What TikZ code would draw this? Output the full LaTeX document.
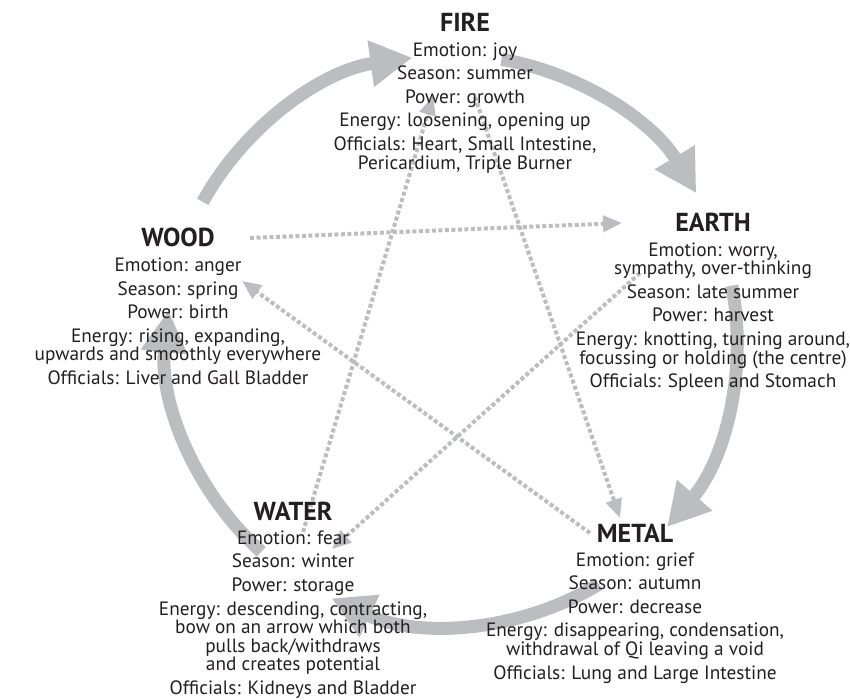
\documentclass[tikz,border=0pt]{standalone}
\usepackage{fontspec}
\setmainfont{PT Sans}
\usetikzlibrary{arrows.meta,positioning,calc}
\definecolor{cyclegray}{HTML}{BCBDC0}
\definecolor{inkgray}{HTML}{231F20}
\tikzset{
  element/.style={font=\bfseries\fontsize{26}{30}\selectfont, text=inkgray, inner sep=0pt, anchor=base},
  qualities/.style={font=\fontsize{19.3}{18.6}\selectfont, text=inkgray, inner sep=0pt, align=center, below=10pt of #1},
  generating/.style={draw=cyclegray, line width=13pt, -{Triangle[width=44pt,length=42pt]}},
  controlling/.style={draw=cyclegray, line width=4pt, dash pattern=on 4pt off 2.5pt, -{Triangle[width=16pt,length=19pt]}},
}

\begin{document}
\begin{tikzpicture}[x=1pt,y=-1pt]
\useasboundingbox (0,0) rectangle (850,700);
\coordinate (hub) at (452,340);

% generating cycle
\foreach \name/\from/\to in {wood/-151/-98, fire/-80/-31, earth/-11/41, metal/59/115, water/132/186}
  \draw[generating] ($(hub)+(\from:285)$) coordinate (\name-out) arc[start angle=\from, end angle=\to, radius=285];

% controlling cycle
\coordinate (wood-ctl) at (250,238);  \coordinate (earth-in) at (622,223);
\coordinate (earth-ctl) at (640,273); \coordinate (water-in) at (332,549);
\coordinate (water-ctl) at (303,532); \coordinate (fire-in) at (433,96);
\coordinate (fire-ctl) at (475,97);   \coordinate (metal-in) at (620,518);
\coordinate (metal-ctl) at (590,533); \coordinate (wood-in) at (242,281);
\draw[controlling] (wood-ctl) -- (earth-in);
\draw[controlling] (earth-ctl) -- (water-in);
\draw[controlling] (water-ctl) -- (fire-in);
\draw[controlling] (fire-ctl) -- (metal-in);
\draw[controlling] (metal-ctl) -- (wood-in);

% elements
\node[element] (fire) at (465,32) {FIRE};
\node[qualities=fire] (fire-text) {Emotion: joy\\[5pt] Season: summer\\[5pt] Power: growth\\[5pt]
  Energy: loosening, opening up\\[5pt] Officials: Heart, Small Intestine,\\ Pericardium, Triple Burner};

\node[element] (earth) at (713,232) {EARTH};
\node[qualities=earth] (earth-text) {Emotion: worry,\\ sympathy, over-thinking\\[5pt] Season: late summer\\[5pt]
  Power: harvest\\[5pt] Energy: knotting, turning around,\\ focussing or holding (the centre)\\[5pt]
  Officials: Spleen and Stomach};

\node[element] (wood) at (178,247) {WOOD};
\node[qualities=wood] (wood-text) {Emotion: anger\\[5pt] Season: spring\\[5pt] Power: birth\\[5pt]
  Energy: rising, expanding,\\ upwards and smoothly everywhere\\[5pt] Officials: Liver and Gall Bladder};

\node[element] (water) at (293,520) {WATER};
\node[qualities=water] (water-text) {Emotion: fear\\[5pt] Season: winter\\[5pt] Power: storage\\[5pt]
  Energy: descending, contracting,\\ bow on an arrow which both\\ pulls back/withdraws\\ and creates potential\\[5pt]
  Officials: Kidneys and Bladder};

\node[element] (metal) at (635,542) {METAL};
\node[qualities=metal] (metal-text) {Emotion: grief\\[5pt] Season: autumn\\[5pt] Power: decrease\\[5pt]
  Energy: disappearing, condensation,\\ withdrawal of Qi leaving a void\\[5pt] Officials: Lung and Large Intestine};
\end{tikzpicture}
\end{document}
